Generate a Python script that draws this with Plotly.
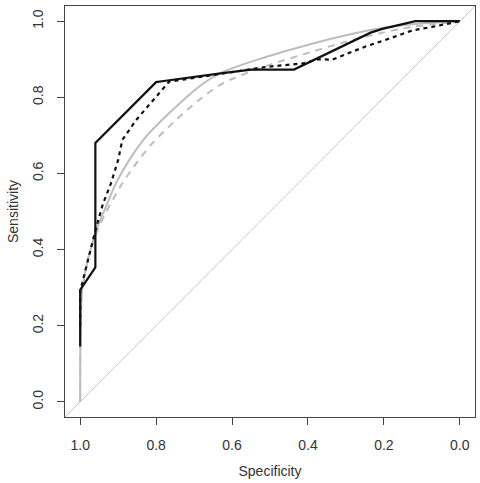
import plotly.graph_objects as go

# empirical ROC, model 1 (black solid)
spec_a = [1.0, 1.0, 0.96, 0.96, 0.80, 0.78, 0.63, 0.55, 0.437, 0.235, 0.204, 0.117, 0.0]
sens_a = [0.145, 0.294, 0.353, 0.68, 0.84, 0.843, 0.863, 0.873, 0.873, 0.97, 0.98, 1.0, 1.0]

# empirical ROC, model 2 (black dashed)
spec_b = [1.0, 1.0, 0.985, 0.96, 0.94, 0.919, 0.90, 0.889, 0.853, 0.80, 0.766, 0.74,
          0.63, 0.51, 0.415, 0.371, 0.336, 0.25, 0.178, 0.125, 0.073, 0.0]
sens_b = [0.2, 0.29, 0.35, 0.45, 0.52, 0.574, 0.635, 0.688, 0.74, 0.80, 0.841, 0.845,
          0.862, 0.88, 0.889, 0.90, 0.899, 0.933, 0.957, 0.976, 0.985, 1.0]

# smoothed ROC, model 1 (grey solid)
spec_c = [1.0, 0.999, 0.995, 0.985, 0.97, 0.954, 0.932, 0.906, 0.871, 0.827, 0.766,
          0.687, 0.626, 0.511, 0.389, 0.30, 0.213, 0.126, 0.0]
sens_c = [0.0, 0.2, 0.29, 0.35, 0.41, 0.46, 0.513, 0.574, 0.635, 0.696, 0.758,
          0.828, 0.866, 0.906, 0.941, 0.963, 0.981, 0.992, 1.0]

# smoothed ROC, model 2 (grey dashed)
spec_d = [1.0, 0.999, 0.995, 0.985, 0.97, 0.95, 0.924, 0.889, 0.853, 0.81, 0.748,
          0.687, 0.626, 0.511, 0.389, 0.30, 0.213, 0.126, 0.0]
sens_d = [0.0, 0.2, 0.29, 0.35, 0.41, 0.46, 0.513, 0.574, 0.626, 0.679, 0.74,
          0.793, 0.836, 0.882, 0.92, 0.946, 0.968, 0.985, 1.0]

# chance line across the whole box
diag_x = [1.04, -0.04]
diag_y = [-0.04, 1.04]

tick_vals = [0.0, 0.2, 0.4, 0.6, 0.8, 1.0]
tick_text = ["0.0", "0.2", "0.4", "0.6", "0.8", "1.0"]

grey = "#bdbdbd"
font = dict(family="Liberation Sans, Arial, sans-serif", size=14, color="#333333")

fig = go.Figure()
fig.add_trace(go.Scatter(x=diag_x, y=diag_y, mode="lines",
                         line=dict(color="#c8c8c8", width=1)))
fig.add_trace(go.Scatter(x=spec_d, y=sens_d, mode="lines",
                         line=dict(color=grey, width=2, dash="7px,6px",
                                   shape="spline", smoothing=0.8)))
fig.add_trace(go.Scatter(x=spec_c, y=sens_c, mode="lines",
                         line=dict(color=grey, width=2, shape="spline", smoothing=0.8)))
fig.add_trace(go.Scatter(x=spec_b, y=sens_b, mode="lines",
                         line=dict(color="#111111", width=2.2, dash="4px,4px")))
fig.add_trace(go.Scatter(x=spec_a, y=sens_a, mode="lines",
                         line=dict(color="#111111", width=2.2)))

axis_style = dict(
    tickvals=tick_vals, ticktext=tick_text,
    ticks="outside", ticklen=7, tickwidth=1, tickcolor="#444444",
    showline=True, linecolor="#444444", linewidth=1, mirror=True,
    showgrid=False, zeroline=False, tickfont=font,
    ticklabelstandoff=8, automargin=False,
)

fig.update_xaxes(range=[1.04, -0.04], title=dict(text="Specificity", font=font, standoff=14),
                 **axis_style)
fig.update_yaxes(range=[-0.04, 1.04], tickangle=-90,
                 title=dict(text="Sensitivity", font=font, standoff=8), **axis_style)

fig.update_layout(
    width=480, height=483,
    showlegend=False,
    plot_bgcolor="white", paper_bgcolor="white",
    margin=dict(l=65, r=5, t=6, b=66),
)

# drop the page's default body margin so the figure sits at the window corner
fig.write_html("out.html", config={"displayModeBar": False},
               post_script="document.body.style.margin='0';")
